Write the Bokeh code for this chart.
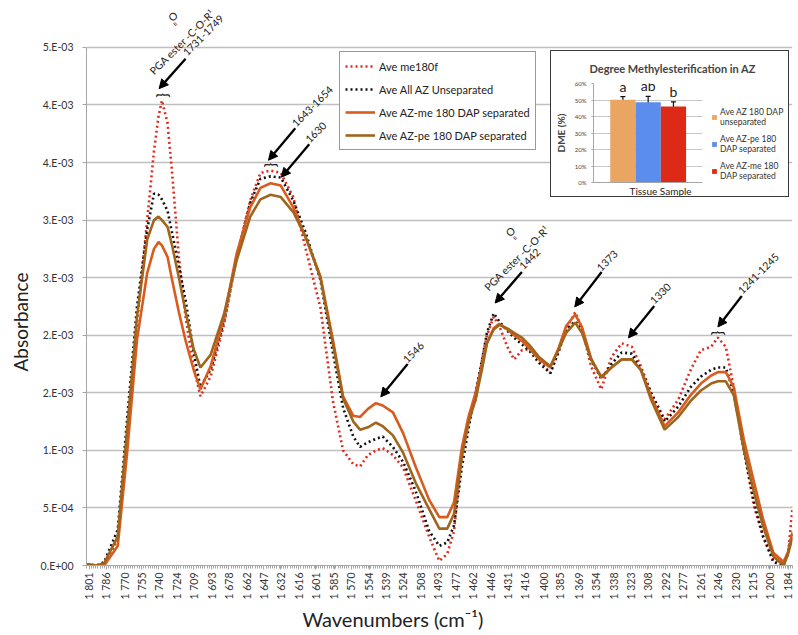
import math
import numpy as np
from bokeh.plotting import figure
from bokeh.models import (Range1d, FixedTicker, Arrow, NormalHead, Legend, LegendItem, Title,
                          ColumnDataSource, Whisker, TeeHead, CustomJSTickFormatter)
from bokeh.core.properties import value
from bokeh.embed import file_html
from bokeh.resources import INLINE

FONT = "Lato"

# ---------------- data (absorbance values in units of 1e-3) ----------------
wavenumbers = [1803, 1795, 1788, 1776, 1768, 1759, 1750, 1744, 1740, 1737,
               1732, 1728, 1722, 1716, 1709, 1703, 1694, 1682, 1671, 1659,
               1650, 1641, 1632, 1621, 1610, 1597, 1586, 1577, 1568, 1562,
               1555, 1548, 1542, 1533, 1524, 1513, 1501, 1492, 1485, 1479,
               1472, 1466, 1460, 1454, 1450, 1444, 1439, 1432, 1426, 1419,
               1412, 1404, 1394, 1387, 1380, 1372, 1366, 1358, 1349, 1340,
               1331, 1322, 1314, 1305, 1293, 1281, 1270, 1261, 1252, 1246,
               1239, 1232, 1223, 1214, 1206, 1197, 1188, 1184, 1180]

ave_me180f = [0.01, 0.0, 0.0, 0.23, 1.09, 2.1, 3.0, 3.6, 3.9, 4.04,
              3.84, 3.41, 2.68, 2.15, 1.73, 1.47, 1.64, 2.1, 2.68, 3.17,
              3.41, 3.43, 3.41, 3.2, 2.75, 2.24, 1.43, 1.0, 0.88, 0.86,
              0.96, 1.0, 1.02, 0.96, 0.85, 0.57, 0.25, 0.04, 0.1, 0.3,
              1.0, 1.3, 1.44, 1.8, 2.0, 2.16, 2.08, 1.9, 1.79, 1.87,
              1.88, 1.79, 1.67, 1.85, 2.05, 2.2, 2.06, 1.73, 1.53, 1.81,
              1.93, 1.9, 1.73, 1.5, 1.27, 1.44, 1.7, 1.87, 1.9, 1.98,
              1.9, 1.55, 1.0, 0.51, 0.25, 0.05, 0.02, 0.1, 0.51]

ave_all_az_unseparated = [0.01, 0.0, 0.03, 0.31, 1.24, 2.25, 2.92, 3.23, 3.22, 3.18,
                          3.08, 2.89, 2.6, 2.3, 1.85, 1.55, 1.7, 2.13, 2.68, 3.15,
                          3.36, 3.38, 3.37, 3.17, 2.89, 2.48, 1.85, 1.37, 1.12, 1.03,
                          1.07, 1.1, 1.12, 1.03, 0.9, 0.65, 0.3, 0.17, 0.2, 0.35,
                          0.86, 1.2, 1.5, 1.8, 2.02, 2.19, 2.12, 2.04, 1.98, 1.92,
                          1.86, 1.76, 1.67, 1.85, 2.05, 2.12, 2.05, 1.79, 1.62, 1.75,
                          1.85, 1.84, 1.7, 1.5, 1.25, 1.38, 1.55, 1.64, 1.7, 1.72,
                          1.72, 1.5, 1.0, 0.55, 0.25, 0.03, 0.0, 0.12, 0.29]

ave_az_me_180_dap_separated = [0.01, 0.0, 0.0, 0.17, 0.95, 1.96, 2.54, 2.75, 2.81, 2.78,
                               2.68, 2.48, 2.2, 1.95, 1.7, 1.53, 1.73, 2.16, 2.71, 3.11,
                               3.28, 3.32, 3.3, 3.11, 2.85, 2.51, 1.96, 1.47, 1.3, 1.29,
                               1.36, 1.41, 1.39, 1.33, 1.15, 0.86, 0.57, 0.42, 0.42, 0.55,
                               1.03, 1.3, 1.5, 1.75, 1.93, 2.06, 2.1, 2.05, 2.0, 1.95,
                               1.88, 1.79, 1.72, 1.88, 2.08, 2.18, 2.07, 1.8, 1.63, 1.72,
                               1.79, 1.79, 1.7, 1.47, 1.21, 1.33, 1.48, 1.58, 1.65, 1.68,
                               1.68, 1.55, 1.09, 0.72, 0.4, 0.11, 0.03, 0.12, 0.29]

ave_az_pe_180_dap_separated = [0.01, 0.0, 0.02, 0.25, 1.15, 2.16, 2.83, 3.0, 3.03, 3.0,
                               2.94, 2.78, 2.5, 2.2, 1.88, 1.72, 1.83, 2.19, 2.65, 3.03,
                               3.18, 3.22, 3.2, 3.07, 2.85, 2.5, 1.93, 1.45, 1.25, 1.18,
                               1.2, 1.24, 1.21, 1.13, 0.98, 0.72, 0.49, 0.32, 0.32, 0.45,
                               0.95, 1.25, 1.44, 1.72, 1.93, 2.05, 2.09, 2.06, 2.02, 1.98,
                               1.91, 1.81, 1.73, 1.87, 2.02, 2.11, 2.02, 1.79, 1.64, 1.72,
                               1.79, 1.79, 1.7, 1.44, 1.18, 1.29, 1.43, 1.52, 1.58, 1.6,
                               1.6, 1.48, 1.0, 0.63, 0.34, 0.08, 0.0, 0.1, 0.25]
ABS_UNIT = 1e-3

series_names = ["Ave me180f", "Ave All AZ Unseparated",
                "Ave AZ-me 180 DAP separated", "Ave AZ-pe 180 DAP separated"]

y_ticks = [0.0, 0.0005, 0.001, 0.0015, 0.002, 0.0025, 0.003, 0.0035, 0.004, 0.0045]
y_tick_labels = ["0.E+00", "5.E-04", "1.E-03", "2.E-03", "2.E-03",
                 "3.E-03", "3.E-03", "4.E-03", "4.E-03", "5.E-03"]
x_ticks = [1801, 1786, 1770, 1755, 1740, 1724, 1709, 1693, 1678, 1662, 1647,
           1632, 1616, 1601, 1585, 1570, 1554, 1539, 1524, 1508, 1493, 1477,
           1462, 1446, 1431, 1416, 1400, 1385, 1369, 1354, 1338, 1323, 1308,
           1292, 1277, 1261, 1246, 1230, 1215, 1200, 1184]
x_tick_labels = [f"{v // 1000} {v % 1000:03d}" for v in x_ticks]

# peak annotations (text, anchor in data coordinates)
ann_text = ["1731-1749", "PGA ester -C-O-R\u00b9", "1643-1654", "1630", "1546",
            "1442", "PGA ester -C-O-R\u00b9", "1373", "1330", "1241-1245"]
ann_x = [1717.0, 1746.2, 1620.6, 1608.7, 1522.6, 1419.9, 1450.6, 1351.4, 1304.4, 1226.7]
ann_y = [4.445, 4.280, 3.828, 3.689, 1.777, 2.589, 2.402, 2.575, 2.289, 2.376]
carbonyl_o_x = [1727.2, 1429.3]
carbonyl_o_y = [4.769, 2.899]
carbonyl_bond_x = [1725.5, 1425.4]
carbonyl_bond_y = [4.700, 2.841]
arrow_x0 = [1716.1, 1619.2, 1606.9, 1520.0, 1419.1, 1348.7, 1302.2, 1224.9]
arrow_y0 = [4.402, 3.798, 3.659, 1.751, 2.549, 2.549, 2.254, 2.341]
arrow_x1 = [1739.5, 1642.9, 1631.5, 1543.7, 1442.7, 1372.4, 1325.0, 1246.0]
arrow_y1 = [4.142, 3.520, 3.373, 1.465, 2.280, 2.246, 1.977, 2.072]
brace_x = [1737.8, 1642.3, 1247.1]
brace_y = [4.084, 3.477, 2.018]

# inset bar chart
dme_samples = ["Ave AZ 180 DAP unseparated", "Ave AZ-pe 180 DAP separated", "Ave AZ-me 180 DAP separated"]
dme_legend = ["Ave AZ 180 DAP\nunseparated", "Ave AZ-pe 180\nDAP separated", "Ave AZ-me 180\nDAP separated"]
dme_percent = [50.2, 48.6, 46.0]
dme_error = [1.8, 3.6, 2.9]
dme_letters = ["a", "ab", "b"]
dme_ticks = [0, 10, 20, 30, 40, 50, 60]
dme_tick_labels = ["0%", "10%", "20%", "30%", "40%", "50%", "60%"]

# ---------------- main figure ----------------
p = figure(width=796, height=624, x_range=Range1d(1803.6, 1180.1), y_range=Range1d(0, 4.838e-3),
           output_backend="svg", toolbar_location=None,
           min_border_left=82, min_border_right=4, min_border_top=0, min_border_bottom=66)
p.outline_line_color = None
p.background_fill_color = "white"
p.border_fill_color = "white"
p.styles = {"position": "absolute", "left": "0px", "top": "8px"}

def list_formatter(vals, labels):
    return CustomJSTickFormatter(args=dict(tick_vals=vals, tick_labels=labels), code="""
        let best = 0;
        for (let i = 0; i < tick_vals.length; i++) {
            if (Math.abs(tick_vals[i] - tick) < Math.abs(tick_vals[best] - tick)) best = i;
        }
        return tick_labels[best];
    """)

minor = [float(t) for t in np.arange(1801.3 + 1.9287, 1180, -1.9287)]
p.xaxis.ticker = FixedTicker(ticks=x_ticks, minor_ticks=minor)
p.xaxis.formatter = list_formatter(x_ticks, x_tick_labels)
p.xaxis.major_label_orientation = math.pi / 2
p.yaxis.ticker = FixedTicker(ticks=y_ticks)
p.yaxis.formatter = list_formatter(y_ticks, y_tick_labels)
p.yaxis.bounds = (0, 4.5e-3)

for ax in (p.xaxis, p.yaxis):
    ax.axis_line_color = "#A6A6A6"
    ax.axis_line_width = 1
    ax.major_tick_line_color = "#A6A6A6"
    ax.major_tick_in = 0
    ax.major_tick_out = 4
    ax.major_label_text_font = FONT
    ax.major_label_text_font_size = "10.5px"
    ax.major_label_text_color = "#333333"
p.xaxis.minor_tick_line_color = "#A6A6A6"
p.xaxis.minor_tick_in = 0
p.xaxis.minor_tick_out = 3
p.yaxis.minor_tick_line_color = None
p.xaxis.major_label_standoff = 3
p.yaxis.major_label_standoff = 9

p.xgrid.visible = False
p.ygrid.ticker = FixedTicker(ticks=y_ticks)
p.ygrid.grid_line_color = "#BFBFBF"
p.ygrid.grid_line_width = 1.4

src = ColumnDataSource(dict(
    wn=wavenumbers,
    me180f=np.array(ave_me180f) * ABS_UNIT,
    allaz=np.array(ave_all_az_unseparated) * ABS_UNIT,
    azme=np.array(ave_az_me_180_dap_separated) * ABS_UNIT,
    azpe=np.array(ave_az_pe_180_dap_separated) * ABS_UNIT,
))
r_red = p.line("wn", "me180f", source=src, line_color="#E02A1E", line_width=2.6, line_dash="2 3")
r_blk = p.line("wn", "allaz", source=src, line_color="#111111", line_width=2.6, line_dash="2 3")
r_org = p.line("wn", "azme", source=src, line_color="#D95B1E", line_width=2.6)
r_brn = p.line("wn", "azpe", source=src, line_color="#A0651C", line_width=2.6)

# annotations
asrc = ColumnDataSource(dict(x0=arrow_x0, y0=np.array(arrow_y0) * ABS_UNIT,
                             x1=arrow_x1, y1=np.array(arrow_y1) * ABS_UNIT))
p.add_layout(Arrow(source=asrc, x_start="x0", y_start="y0", x_end="x1", y_end="y1",
                   line_color="black", line_width=2.3,
                   end=NormalHead(size=9, fill_color="black", line_color="black")))
p.text(x=ann_x, y=np.array(ann_y) * ABS_UNIT, text=ann_text, angle=math.pi / 4,
       text_font=value(FONT), text_font_size="10.5px", text_color="#222222",
       text_align="left", text_baseline="middle")
p.text(x=carbonyl_o_x, y=np.array(carbonyl_o_y) * ABS_UNIT, text=["O", "O"], angle=math.pi / 4,
       text_font=value(FONT), text_font_size="10.5px", text_color="#222222",
       text_align="center", text_baseline="middle")
p.text(x=carbonyl_bond_x, y=np.array(carbonyl_bond_y) * ABS_UNIT, text=["=", "="], angle=3 * math.pi / 4,
       text_font=value(FONT), text_font_size="9px", text_color="#222222",
       text_align="center", text_baseline="middle")
p.text(x=brace_x, y=np.array(brace_y) * ABS_UNIT, text=["}"] * len(brace_x), angle=math.pi / 2,
       text_font=value(FONT), text_font_size="16px", text_color="#111111",
       text_align="center", text_baseline="middle")

# axis titles
p.add_layout(Title(text="Wavenumbers (cm\u207b\u00b9)", align="left", offset=216, standoff=4,
                   text_font=FONT, text_font_size="20px", text_font_style="normal",
                   text_color="#222222"), "below")
p.add_layout(Title(text="Absorbance", align="left", offset=194, standoff=12,
                   text_font=FONT, text_font_size="19px", text_font_style="normal",
                   text_color="#222222"), "left")

legend = Legend(items=[LegendItem(label=series_names[0], renderers=[r_red]),
                       LegendItem(label=series_names[1], renderers=[r_blk]),
                       LegendItem(label=series_names[2], renderers=[r_org]),
                       LegendItem(label=series_names[3], renderers=[r_brn])],
                location=(253, 415), margin=0, padding=5, spacing=5,
                glyph_width=30, glyph_height=18, label_height=18, label_standoff=4,
                label_text_font=FONT, label_text_font_size="11px", label_text_color="#222222",
                border_line_color="#333333", border_line_width=1,
                background_fill_color="white", background_fill_alpha=1.0)
p.add_layout(legend)

# ---------------- inset figure ----------------
dme_index = list(range(len(dme_samples)))
x_start = -1.162
inset = figure(width=239, height=147,
               x_range=Range1d(x_start, x_start + 7.713), y_range=Range1d(0, 60),
               output_backend="svg", toolbar_location=None,
               min_border_left=39, min_border_right=2, min_border_top=32, min_border_bottom=16)
inset.title.text = "Degree Methylesterification in AZ"
inset.title.text_font = FONT
inset.title.text_font_size = "11px"
inset.title.text_font_style = "bold"
inset.title.align = "left"
inset.title.offset = -4
inset.title.standoff = 17
inset.outline_line_color = None
inset.xgrid.visible = False
inset.ygrid.ticker = FixedTicker(ticks=dme_ticks)
inset.ygrid.grid_line_color = "#C8C8C8"
bar_area_end = len(dme_samples) - 0.5 + (-0.5 - x_start)
if "cross_bounds" in inset.ygrid[0].properties():
    inset.ygrid.cross_bounds = (x_start, bar_area_end)
inset.yaxis.ticker = FixedTicker(ticks=dme_ticks)
inset.yaxis.formatter = list_formatter(dme_ticks, dme_tick_labels)
inset.yaxis.major_label_text_font_size = "6px"
inset.yaxis.major_label_text_font = FONT
inset.yaxis.major_label_text_color = "#444444"
inset.yaxis.axis_label = "DME (%)"
inset.yaxis.axis_label_text_font = FONT
inset.yaxis.axis_label_text_font_style = "bold"
inset.yaxis.axis_label_text_font_size = "10px"
inset.yaxis.axis_label_standoff = 5
inset.xaxis.ticker = FixedTicker(ticks=[])
inset.xaxis.major_label_text_font_size = "0px"
inset.xaxis.major_label_standoff = 0
inset.xaxis.bounds = (x_start, bar_area_end)
inset.add_layout(Title(text="Tissue Sample", align="left", offset=36, standoff=1,
                       text_font=FONT, text_font_size="10px", text_font_style="normal",
                       text_color="#222222"), "below")
for ax in (inset.xaxis, inset.yaxis):
    ax.axis_line_color = "#A6A6A6"
    ax.major_tick_line_color = "#A6A6A6"
    ax.major_tick_in = 0
    ax.major_tick_out = 2
    ax.minor_tick_line_color = None
inset.xaxis.major_tick_line_color = None

dsrc = ColumnDataSource(dict(x=dme_index, top=dme_percent,
                             upper=[v + e for v, e in zip(dme_percent, dme_error)],
                             lower=[v - e for v, e in zip(dme_percent, dme_error)],
                             letter=dme_letters, color=["#EAA562", "#5B8DEF", "#DC2A16"]))
bars = inset.vbar(x="x", top="top", width=1.0, source=dsrc, fill_color="color", line_color=None)
inset.add_layout(Whisker(base="x", upper="upper", lower="lower", source=dsrc,
                         line_color="#111111", line_width=1.2,
                         upper_head=TeeHead(size=5, line_color="#111111", line_width=1.2),
                         lower_head=TeeHead(size=5, line_color="#111111", line_width=1.2)))
inset.text(x="x", y="upper", text="letter", source=dsrc, y_offset=-2,
           text_font=value(FONT), text_font_size="14px", text_color="#222222",
           text_align="center", text_baseline="bottom")
ileg = Legend(items=[LegendItem(label=dme_legend[i], renderers=[bars], index=i) for i in range(3)],
              location=(118, 0), margin=0, padding=4, spacing=5,
              glyph_width=6, glyph_height=6, label_standoff=3, label_height=22,
              label_text_font=FONT, label_text_font_size="8.5px", label_text_color="#333333",
              border_line_color=None, background_fill_color="white", background_fill_alpha=1.0)
inset.add_layout(ileg)
inset.styles = {"position": "absolute", "left": "550px", "top": "50px",
                "border": "1px solid #3a3a3a", "z-index": "10", "background": "white"}

open("out.html", "w").write(file_html([p, inset], INLINE))
